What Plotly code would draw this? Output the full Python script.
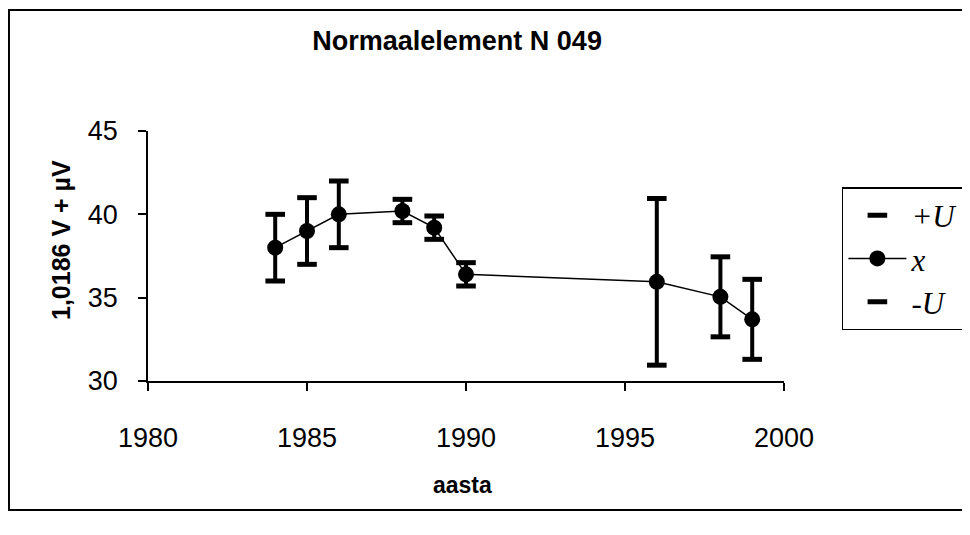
import plotly.graph_objects as go

# Data
years = [1984, 1985, 1986, 1988, 1989, 1990, 1996, 1998, 1999]
x_vals = [38.0, 39.0, 40.0, 40.2, 39.2, 36.4, 35.95, 35.05, 33.7]
plus_u = [40.0, 41.0, 42.0, 40.9, 39.9, 37.1, 40.95, 37.45, 36.1]
minus_u = [36.0, 37.0, 38.0, 39.5, 38.5, 35.7, 30.95, 32.65, 31.3]

x_ticks = [1980, 1985, 1990, 1995, 2000]
y_ticks = [30, 35, 40, 45]

err_plus = [p - v for p, v in zip(plus_u, x_vals)]
err_minus = [v - m for v, m in zip(x_vals, minus_u)]

fig = go.Figure()

fig.add_trace(go.Scatter(
    x=years, y=plus_u, mode="markers", name="<i>+U</i>", legendgroup="a",
    marker=dict(symbol="line-ew", size=14, color="black",
                line=dict(color="black", width=5)),
))
fig.add_trace(go.Scatter(
    x=years, y=x_vals, mode="lines+markers", name="<i>x</i>", legendgroup="b",
    line=dict(color="black", width=1.5),
    marker=dict(symbol="circle", size=16, color="black"),
    error_y=dict(type="data", symmetric=False, array=err_plus,
                 arrayminus=err_minus, color="black", thickness=4, width=0),
))
fig.add_trace(go.Scatter(
    x=years, y=minus_u, mode="markers", name="<i>-U</i>", legendgroup="c",
    marker=dict(symbol="line-ew", size=14, color="black",
                line=dict(color="black", width=5)),
))

fig.update_layout(
    width=954, height=519,
    margin=dict(l=140, r=178, t=123, b=146, autoexpand=False),
    paper_bgcolor="white", plot_bgcolor="white",
    font=dict(family="Liberation Sans, Arial, sans-serif", color="black"),
    title=dict(text="<b>Normaalelement N 049</b>", x=0.486, xref="paper",
               xanchor="center", y=0.938, yanchor="middle",
               font=dict(size=27, color="black")),
    showlegend=True,
    legend=dict(x=1.091, y=0.776, xanchor="left", yanchor="top",
                bordercolor="black", borderwidth=1.5, bgcolor="white",
                font=dict(family="Liberation Serif, Times New Roman, serif", size=31),
                tracegroupgap=0, itemwidth=58),
    xaxis=dict(range=[1980, 2000], tickvals=x_ticks, ticks="outside", ticklen=8,
               tickwidth=1.5, tickcolor="black", showline=True, linecolor="black",
               linewidth=1.5, showgrid=False, zeroline=False,
               tickfont=dict(size=27), ticklabelstandoff=24),
    yaxis=dict(range=[30, 45], tickvals=y_ticks, ticks="outside", ticklen=8,
               tickwidth=1.5, tickcolor="black", showline=True, linecolor="black",
               linewidth=1.5, showgrid=False, zeroline=False,
               tickfont=dict(size=27), ticklabelstandoff=15),
    annotations=[
        dict(text="<b>aasta</b>", xref="paper", yref="paper", x=0.495, y=-0.416,
             xanchor="center", yanchor="middle", showarrow=False,
             font=dict(size=23)),
        dict(text="<b>1,0186 V + µV</b>", xref="paper", yref="paper",
             x=-0.1368, y=0.564, xanchor="center", yanchor="middle",
             textangle=-90, showarrow=False, font=dict(size=25)),
    ],
    shapes=[dict(type="rect", xref="paper", yref="paper",
                 x0=-0.2186, x1=1.35, y0=-0.516, y1=1.484,
                 line=dict(color="black", width=2), layer="below")],
)

fig.write_html("out.html")
